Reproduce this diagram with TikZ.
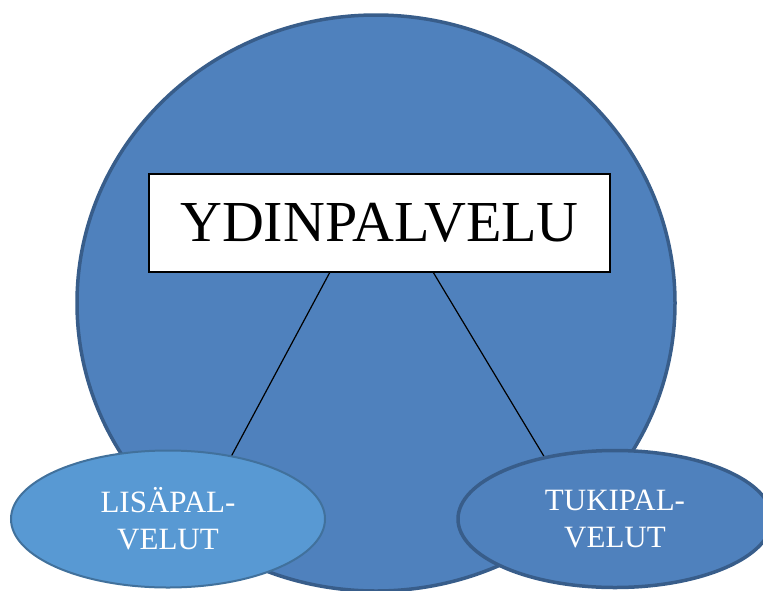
\documentclass[tikz,border=0pt]{standalone}
\usepackage{fontspec}
\setmainfont{Liberation Serif}
\usetikzlibrary{shapes.geometric}
\definecolor{mainblue}{HTML}{4F81BD}
\definecolor{darkrim}{HTML}{385D8A}
\definecolor{lightblue}{HTML}{5899D3}
\definecolor{lightrim}{HTML}{41719C}
\tikzset{
  bigcircle/.style={ellipse, draw=darkrim, fill=mainblue, line width=3.5pt, minimum width=598pt, minimum height=576pt, inner sep=0pt},
  corebox/.style={draw=black, fill=white, line width=1.5pt, minimum width=461pt, minimum height=98pt, inner sep=0pt, font=\fontsize{58}{60}\selectfont},
  sidebox/.style={ellipse, minimum width=314pt, minimum height=137pt, inner sep=0pt, text=white, align=center, font=\fontsize{31}{37}\selectfont},
  link/.style={draw=black, line width=1.2pt}
}
\begin{document}
\begin{tikzpicture}[x=1pt,y=-1pt]
\useasboundingbox (0,0) rectangle (763,590);
\node[bigcircle] (outer) at (376,303) {};
\node[corebox] (core) at (379.5,223) {YDINPALVELU};
\coordinate (c1) at (330,272);
\coordinate (c2) at (433,272);
\coordinate (e1) at (225,468);
\coordinate (e2) at (551,468);
\draw[link] (c1) -- (e1);
\draw[link] (c2) -- (e2);
\node[sidebox, draw=lightrim, fill=lightblue, line width=2pt] (lisa) at (168,519) {LISÄPAL-\\VELUT};
\node[sidebox, draw=darkrim, fill=mainblue, line width=3.5pt] (tuki) at (615,519) {TUKIPAL-\\VELUT};
\end{tikzpicture}
\end{document}
